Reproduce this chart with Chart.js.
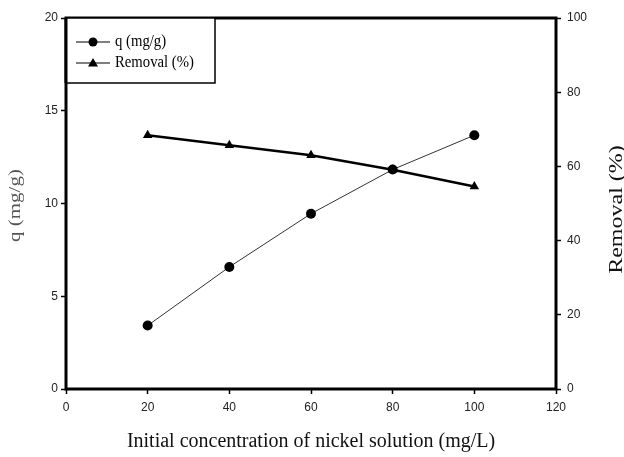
<!DOCTYPE html>
<html>
<head>
<meta charset="utf-8">
<script src="https://cdn.jsdelivr.net/npm/chart.js@4/dist/chart.umd.min.js"></script>
<style>
  html, body { margin: 0; padding: 0; background: #fff; }
  #wrap { width: 624px; height: 457px; position: relative; }
</style>
</head>
<body>
<div id="wrap"><canvas id="chart"></canvas></div>
<script>
// data
const concentrations = [20, 40, 60, 80, 100];
const qValues = [3.42, 6.58, 9.45, 11.83, 13.68];
const removalValues = [68.4, 65.7, 63.0, 59.1, 54.6];

const xTicks = [0, 20, 40, 60, 80, 100, 120];
const qTicks = [0, 5, 10, 15, 20];
const removalTicks = [0, 20, 40, 60, 80, 100];

const xTitle = 'Initial concentration of nickel solution (mg/L)';
const qTitle = 'q (mg/g)';
const removalTitle = 'Removal (%)';

Chart.defaults.font.family = "'Liberation Sans', Arial, sans-serif";

function toPoints(xs, ys) {
  return xs.map((x, i) => ({ x: x, y: ys[i] }));
}

function tickOpts(padding) {
  return {
    color: '#222',
    font: { size: 12 },
    padding: padding
  };
}

function gridOpts() {
  return {
    display: true,
    drawOnChartArea: false,
    drawTicks: true,
    tickLength: 5,
    tickColor: '#000',
    tickWidth: 1.5
  };
}

// thick black frame around the plot
const framePlugin = {
  id: 'frame',
  afterDatasetsDraw(chart) {
    const { ctx, chartArea: a } = chart;
    ctx.save();
    ctx.strokeStyle = '#000';
    ctx.lineWidth = 3;
    ctx.strokeRect(a.left, a.top, a.right - a.left, a.bottom - a.top);
    ctx.restore();
  }
};

// rotated y titles (both read bottom to top)
const yTitlePlugin = {
  id: 'yTitles',
  afterDraw(chart) {
    const { ctx, chartArea: a } = chart;
    const midY = (a.top + a.bottom) / 2;
    function draw(text, x, y, size, color) {
      ctx.save();
      ctx.translate(x, y);
      ctx.scale(0.75, 1);
      ctx.rotate(-Math.PI / 2);
      ctx.font = size + "px 'Liberation Serif', 'Times New Roman', serif";
      ctx.fillStyle = color;
      ctx.textAlign = 'center';
      ctx.textBaseline = 'middle';
      ctx.fillText(text, 0, 0);
      ctx.restore();
    }
    draw(qTitle, a.left - 50, midY + 2, 21, '#555');
    draw(removalTitle, a.right + 61, midY + 6, 24, '#111');
  }
};

// boxed legend in the upper left corner of the plot
const legendPlugin = {
  id: 'boxLegend',
  afterDraw(chart) {
    const { ctx, chartArea: a } = chart;
    const w = 149, h = 65;
    ctx.save();
    ctx.fillStyle = '#fff';
    ctx.fillRect(a.left, a.top, w, h);
    ctx.strokeStyle = '#000';
    ctx.lineWidth = 1.5;
    ctx.strokeRect(a.left, a.top, w, h);
    ctx.lineWidth = 3;
    ctx.strokeRect(a.left, a.top, 0, h);
    chart.data.datasets.forEach((ds, i) => {
      const y = a.top + 24 + i * 21;
      const x0 = a.left + 10, x1 = a.left + 44, xm = (x0 + x1) / 2;
      ctx.strokeStyle = '#000';
      ctx.lineWidth = 1.2;
      ctx.beginPath();
      ctx.moveTo(x0, y);
      ctx.lineTo(x1, y);
      ctx.stroke();
      ctx.fillStyle = '#000';
      ctx.beginPath();
      if (ds.pointStyle === 'triangle') {
        ctx.moveTo(xm, y - 5);
        ctx.lineTo(xm + 5, y + 3.5);
        ctx.lineTo(xm - 5, y + 3.5);
        ctx.closePath();
      } else {
        ctx.arc(xm, y, 4.5, 0, Math.PI * 2);
      }
      ctx.fill();
      ctx.save();
      ctx.translate(x1 + 5, y);
      ctx.scale(0.92, 1);
      ctx.font = "16px 'Liberation Serif', 'Times New Roman', serif";
      ctx.textAlign = 'left';
      ctx.textBaseline = 'middle';
      ctx.fillText(ds.label, 0, 0);
      ctx.restore();
    });
    ctx.restore();
  }
};

new Chart(document.getElementById('chart'), {
  type: 'line',
  data: {
    datasets: [{
      label: qTitle,
      data: toPoints(concentrations, qValues),
      yAxisID: 'y',
      borderColor: '#333',
      borderWidth: 1,
      pointStyle: 'circle',
      pointRadius: 5,
      pointBackgroundColor: '#000',
      pointBorderColor: '#000',
      pointBorderWidth: 0
    }, {
      label: removalTitle,
      data: toPoints(concentrations, removalValues),
      yAxisID: 'y1',
      borderColor: '#000',
      borderWidth: 2.5,
      pointStyle: 'triangle',
      pointRadius: 5.5,
      pointBackgroundColor: '#000',
      pointBorderColor: '#000',
      pointBorderWidth: 0
    }]
  },
  options: {
    responsive: true,
    maintainAspectRatio: false,
    animation: false,
    layout: { padding: { top: 18, left: 0, right: 0, bottom: 0 } },
    plugins: {
      legend: { display: false },
      tooltip: { enabled: false }
    },
    scales: {
      x: {
        type: 'linear',
        min: 0,
        max: 120,
        afterBuildTicks: s => { s.ticks = xTicks.map(v => ({ value: v })); },
        afterFit: s => { s.height = 68; },
        ticks: tickOpts(6),
        grid: gridOpts(),
        border: { display: false },
        title: {
          display: true,
          text: xTitle,
          color: '#111',
          font: { family: "'Liberation Serif', 'Times New Roman', serif", size: 20 },
          padding: { top: 0, bottom: 3 }
        }
      },
      y: {
        position: 'left',
        min: 0,
        max: 20,
        afterBuildTicks: s => { s.ticks = qTicks.map(v => ({ value: v })); },
        afterFit: s => { s.width = 66; },
        ticks: tickOpts(3),
        grid: gridOpts(),
        border: { display: false }
      },
      y1: {
        position: 'right',
        min: 0,
        max: 100,
        afterBuildTicks: s => { s.ticks = removalTicks.map(v => ({ value: v })); },
        afterFit: s => { s.width = 68; },
        ticks: tickOpts(6),
        grid: gridOpts(),
        border: { display: false }
      }
    }
  },
  plugins: [framePlugin, yTitlePlugin, legendPlugin]
});
</script>
</body>
</html>
